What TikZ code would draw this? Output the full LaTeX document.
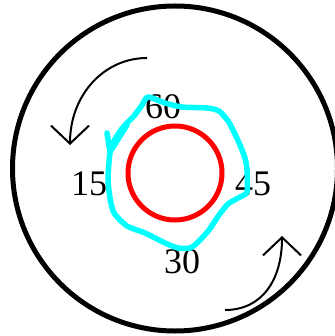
\documentclass[tikz,border=0pt]{standalone}
\usepackage{fontspec}
\setmainfont{Liberation Serif}
\usetikzlibrary{arrows.meta}
\definecolor{aqua}{RGB}{0,255,255}
\definecolor{pured}{RGB}{255,0,0}

\begin{document}
\begin{tikzpicture}[
x=1pt,y=-1pt,
lbl/.style={inner sep=0pt,font=\fontsize{36}{36}\selectfont},
rim/.style={line width=5pt,black},
hub/.style={line width=5pt,pured},
turn/.style={line width=2pt,-{Straight Barb[length=18pt,width=38pt]}},
trace/.style={line width=5.5pt,aqua,line join=round,line cap=round}
]
\useasboundingbox (0,0) rectangle (334,336);

\draw[rim] (175,168.5) circle (162.5);
\draw[hub] (175,173) circle (47);

\node[lbl] (m60) at (163,107) {60};
\node[lbl] (m15) at (89,184) {15};
\node[lbl] (m45) at (253,184) {45};
\node[lbl] (m30) at (182,262) {30};

% hand drawn loop, over the labels
\draw[trace] plot[smooth cycle,tension=0.4] coordinates {
(148,97) (165,103) (182,107) (207,108) (219,111) (228,121) (234,132)
(240,145) (245,158) (247,170) (247,192) (238,198) (228,204) (219,215)
(209,230) (198,242) (190,248) (178,248) (165,243) (145,233) (127,226)
(114,213) (110,198) (108,180) (109,162) (111,147) (117,136) (124,126)
(134,116) (142,105)};
\draw[trace] (107,133) -- (110,152) -- (127,125);

\coordinate (tl) at (147,58);
\coordinate (tlend) at (70,145);
\coordinate (br) at (225,310);
\coordinate (brend) at (282,236);

\draw[turn] (tl) .. controls (104,58) and (70,95) .. (tlend);
\draw[turn] (br) .. controls (262,310) and (282,280) .. (brend);

\end{tikzpicture}
\end{document}
